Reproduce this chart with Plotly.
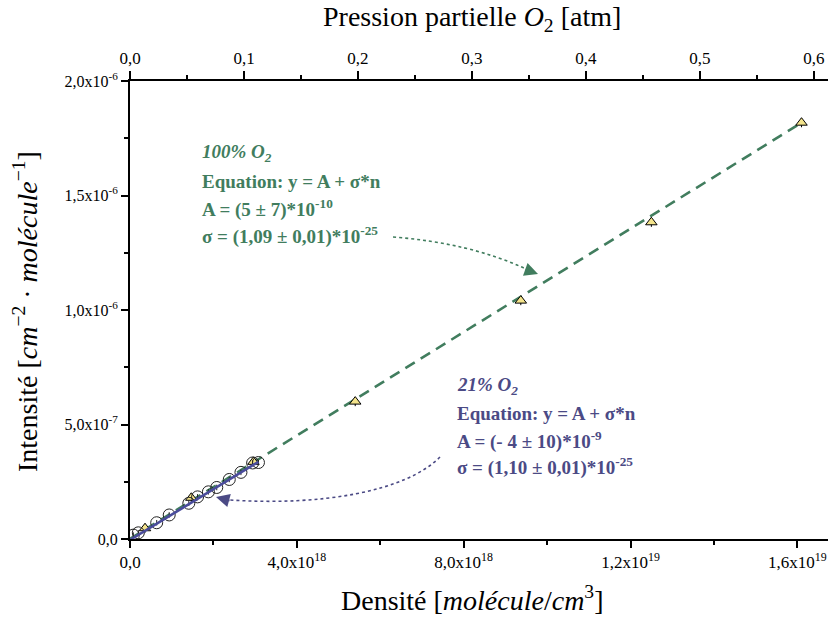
import plotly.graph_objects as go

# ---------------- data ----------------
# 21 % O2 : open circles
n21 = [0.08e18, 0.20e18, 0.64e18, 0.94e18, 1.41e18, 1.62e18, 1.88e18, 2.08e18, 2.38e18, 2.66e18, 2.94e18, 3.08e18]
I21 = [0.017e-6, 0.027e-6, 0.071e-6, 0.105e-6, 0.156e-6, 0.184e-6, 0.206e-6, 0.225e-6, 0.260e-6, 0.291e-6, 0.332e-6, 0.334e-6]
# 100 % O2 : yellow triangles
n100 = [0.36e18, 1.47e18, 2.96e18, 5.40e18, 9.37e18, 12.5e18, 16.1e18]
I100 = [0.047e-6, 0.180e-6, 0.337e-6, 0.600e-6, 1.041e-6, 1.383e-6, 1.818e-6]
err100 = [0.02e-6] * len(n100)
err21 = [0.012e-6] * len(n21)
# fitted lines (end points)
fit21_n = [0.0, 3.08e18]
fit21_I = [-0.004e-6, 0.337e-6]
fit100_n = [0.0, 16.1e18]
fit100_I = [0.0005e-6, 1.818e-6]

xticks = [0, 4e18, 8e18, 1.2e19, 1.6e19]
xticktext = ["0,0", "4,0x10<sup>18</sup>", "8,0x10<sup>18</sup>", "1,2x10<sup>19</sup>", "1,6x10<sup>19</sup>"]
yticks = [0, 5e-7, 1e-6, 1.5e-6, 2e-6]
yticktext = ["0,0", "5,0x10<sup>-7</sup>", "1,0x10<sup>-6</sup>", "1,5x10<sup>-6</sup>", "2,0x10<sup>-6</sup>"]
x2ticks = [0, 0.1, 0.2, 0.3, 0.4, 0.5, 0.6]
x2ticktext = ["0,0", "0,1", "0,2", "0,3", "0,4", "0,5", "0,6"]

GREEN = "#417d5e"
PURPLE_LINE = "#4a4c9c"
PURPLE_TXT = "#4b4a85"
SERIF = "Liberation Serif"

W, H = 828, 620
L, R, T, B = 130, 0, 81, 81


def paper(px, py):
    return (px - L) / (W - L - R), (H - B - py) / (H - T - B)


fig = go.Figure()

fig.add_trace(go.Scatter(x=fit100_n, y=fit100_I, mode="lines",
                         line=dict(color=GREEN, width=2.6, dash="11px,7px"),
                         showlegend=False, hoverinfo="skip"))
fig.add_trace(go.Scatter(x=n100, y=I100, mode="markers",
                         marker=dict(symbol="triangle-up", size=10, color="#f4e48c",
                                     line=dict(color="black", width=1)),
                         error_y=dict(type="data", array=err100, color="black", thickness=1, width=0),
                         showlegend=False))
fig.add_trace(go.Scatter(x=n21, y=I21, mode="markers",
                         marker=dict(symbol="circle-open", size=12, color="#222222",
                                     line=dict(width=1)),
                         error_y=dict(type="data", array=err21, color="#222222", thickness=1, width=0),
                         showlegend=False))
fig.add_trace(go.Scatter(x=fit21_n, y=fit21_I, mode="lines",
                         line=dict(color=PURPLE_LINE, width=2.6),
                         showlegend=False, hoverinfo="skip"))
# dummy trace for the top axis
fig.add_trace(go.Scatter(x=[], y=[], xaxis="x2", showlegend=False))

xtickfont = dict(family=SERIF, size=17, color="black")
ytickfont = dict(family=SERIF, size=16, color="black")

fig.update_layout(
    width=W, height=H,
    margin=dict(l=L, r=R, t=T, b=B, autoexpand=False),
    paper_bgcolor="white", plot_bgcolor="white",
    xaxis=dict(range=[0, 16.735e18], tickvals=xticks, ticktext=xticktext,
               ticks="outside", ticklen=7, tickwidth=2, tickcolor="black",
               showline=True, linecolor="black", linewidth=2, showgrid=False, zeroline=False,
               tickfont=xtickfont, automargin=False,
               minor=dict(tickvals=[2e18, 6e18, 1e19, 1.4e19], ticks="outside", ticklen=4,
                          tickwidth=2, tickcolor="black", showgrid=False)),
    xaxis2=dict(range=[0, 0.6123], overlaying="x", side="top", anchor="y",
                tickvals=x2ticks, ticktext=x2ticktext,
                ticks="outside", ticklen=8, tickwidth=2, tickcolor="black",
                showline=True, linecolor="black", linewidth=2, showgrid=False, zeroline=False,
                tickfont=xtickfont, automargin=False,
                minor=dict(tickvals=[0.05, 0.15, 0.25, 0.35, 0.45, 0.55], ticks="outside",
                           ticklen=4, tickwidth=2, tickcolor="black", showgrid=False)),
    yaxis=dict(range=[0, 2.0e-6], tickvals=yticks, ticktext=yticktext,
               ticks="outside", ticklen=7, tickwidth=2, tickcolor="black",
               showline=True, linecolor="black", linewidth=2, showgrid=False, zeroline=False,
               tickfont=ytickfont, automargin=False,
               minor=dict(tickvals=[2.5e-7, 7.5e-7, 1.25e-6, 1.75e-6], ticks="outside",
                          ticklen=4, tickwidth=2, tickcolor="black", showgrid=False)),
)

annotations = []


def add_text(px, py, text, color):
    x, y = paper(px, py)
    annotations.append(dict(x=x, y=y, xref="paper", yref="paper", xanchor="left", yanchor="middle",
                            text=text, showarrow=False,
                            font=dict(family=SERIF, size=19, color=color)))


# 100 % block
add_text(200, 153, "<b><i>100% O<sub>2</sub></i></b>", GREEN)
add_text(200, 181, "<b>Equation: y = A + σ*n</b>", GREEN)
add_text(200, 208, "<b>A = (5 ± 7)*10<sup>-10</sup></b>", GREEN)
add_text(200, 235, "<b>σ = (1,09 ± 0,01)*10<sup>-25</sup></b>", GREEN)
# 21 % block
add_text(455, 386, "<b><i>21% O<sub>2</sub></i></b>", PURPLE_TXT)
add_text(455, 413, "<b>Equation: y = A + σ*n</b>", PURPLE_TXT)
add_text(455, 440, "<b>A = (- 4 ± 10)*10<sup>-9</sup></b>", PURPLE_TXT)
add_text(455, 466, "<b>σ = (1,10 ± 0,01)*10<sup>-25</sup></b>", PURPLE_TXT)

# arrowheads
hx, hy = paper(538, 274)
annotations.append(dict(x=hx, y=hy, xref="paper", yref="paper", ax=-14, ay=-5, text="",
                        showarrow=True, arrowhead=2, arrowsize=1.5, arrowwidth=1.8,
                        arrowcolor=GREEN, standoff=0))
hx, hy = paper(216, 497)
annotations.append(dict(x=hx, y=hy, xref="paper", yref="paper", ax=15, ay=4, text="",
                        showarrow=True, arrowhead=2, arrowsize=1.5, arrowwidth=1.8,
                        arrowcolor=PURPLE_TXT, standoff=0))

# axis titles
cx, _ = paper(472, 0)
annotations.append(dict(x=cx, y=1, xref="paper", yref="paper", yanchor="middle", yshift=63,
                        text="Pression partielle <i>O</i><sub>2</sub> [atm]", showarrow=False,
                        font=dict(family=SERIF, size=28, color="black")))
annotations.append(dict(x=cx, y=0, xref="paper", yref="paper", yanchor="middle", yshift=-59,
                        text="Densité [<i>molécule</i>/<i>cm</i><sup>3</sup>]", showarrow=False,
                        font=dict(family=SERIF, size=28, color="black")))
_, cy = paper(0, 312)
annotations.append(dict(x=0, y=cy, xref="paper", yref="paper", xanchor="center", xshift=-105,
                        textangle=-90,
                        text="Intensité [<i>cm</i><sup>−2</sup> · <i>molécule</i><sup>−1</sup>]",
                        showarrow=False, font=dict(family=SERIF, size=28, color="black")))

fig.update_layout(annotations=annotations)


# dotted curved connectors
def pstr(px, py):
    x, y = paper(px, py)
    return f"{x:.4f},{y:.4f}"


fig.add_shape(type="path", xref="paper", yref="paper",
              path=f"M {pstr(393, 237)} Q {pstr(470, 243)} {pstr(526, 269)}",
              line=dict(color=GREEN, width=1.6, dash="dot"))
fig.add_shape(type="path", xref="paper", yref="paper",
              path=f"M {pstr(440, 457)} C {pstr(405, 492)} {pstr(320, 506)} {pstr(230, 500)}",
              line=dict(color=PURPLE_TXT, width=1.6, dash="dot"))

# remove the default page margin so the figure sits at the window origin
fig.write_html("out.html", config={"displayModeBar": False},
               post_script="document.body.style.margin='0px';document.body.style.overflow='hidden';")
